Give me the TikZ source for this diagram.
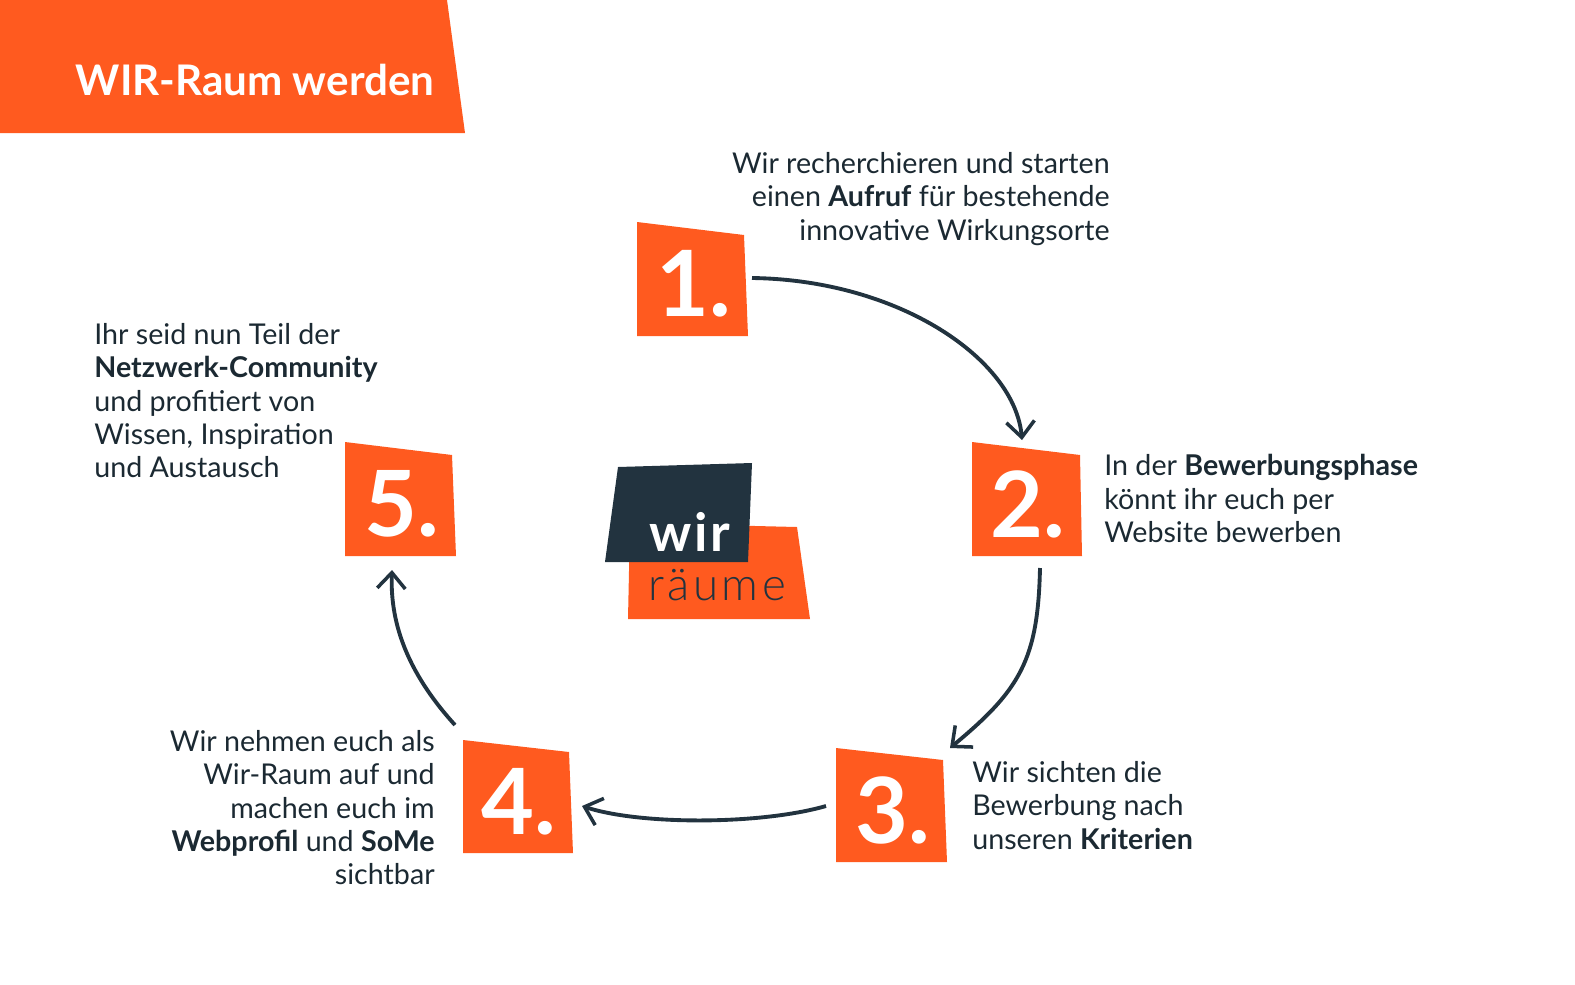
\documentclass[tikz,border=0pt]{standalone}
\usepackage{fontspec}
\setmainfont{Lato}
\usetikzlibrary{arrows.meta}
\definecolor{wirorange}{HTML}{FF5A1F}
\definecolor{wirdark}{HTML}{22333F}
\tikzset{
  numtext/.style={text=white, font=\fontsize{52}{52}\selectfont\bfseries},
  steptext/.style={text=wirdark!80!black, font=\fontsize{16.3}{19}\selectfont, inner sep=0pt},
  flow/.style={draw=wirdark, line width=2.2pt, -{Straight Barb[length=9pt,width=16pt,line width=2pt]}}
}
\begin{document}
\begin{tikzpicture}[x=0.02cm, y=-0.02cm]
\useasboundingbox (0,0) rectangle (1575,984);

% banner
\fill[wirorange] (0,0) -- (447,0) -- (465,133) -- (0,133) -- cycle;
\node[text=white, font=\fontsize{24}{24}\selectfont\bfseries] (title) at (255,80) {WIR-Raum werden};

% step boxes
\fill[wirorange] (637,222) -- (744,235) -- (748,336) -- (637,336) -- cycle;
\fill[wirorange] (972,442) -- (1080,455) -- (1082,556) -- (972,556) -- cycle;
\fill[wirorange] (836,748) -- (943,760) -- (947,862) -- (836,862) -- cycle;
\fill[wirorange] (463,740) -- (569,752) -- (573,853) -- (463,853) -- cycle;
\fill[wirorange] (345,442) -- (452,455) -- (456,556) -- (345,556) -- cycle;
\node[numtext] (n1) at (694,284) {1.};
\node[numtext] (n2) at (1028,504) {2.};
\node[numtext] (n3) at (893,810) {3.};
\node[numtext] (n4) at (519,802) {4.};
\node[numtext] (n5) at (402,504) {5.};

% logo
\fill[wirorange] (630,523) -- (797,527) -- (810,619) -- (628,619) -- cycle;
\fill[wirdark] (618,467) -- (752,463) -- (748,562) -- (605,562) -- cycle;
\node[text=white, font=\fontsize{30}{30}\selectfont\bfseries] (wir) at (690,532) {w\kern1.5pt i\kern1.5pt r};
\node[text=wirdark, font=\fontsize{26}{26}\selectfont\fontspec{Lato Light}] (raeume) at (717,585) {r\kern2pt \"a\kern2pt u\kern2pt m\kern2pt e};

% texts
\node[steptext, anchor=north east, align=right] (t1) at (1110,152)
  {Wir recherchieren und starten\\einen \textbf{Aufruf} f\"ur bestehende\\innovative Wirkungsorte};
\node[steptext, anchor=north west, align=left] (t2) at (1104,454)
  {In der \textbf{Bewerbungsphase}\\k\"onnt ihr euch per\\Website bewerben};
\node[steptext, anchor=north west, align=left] (t3) at (972,761)
  {Wir sichten die\\Bewerbung nach\\unseren \textbf{Kriterien}};
\node[steptext, anchor=north east, align=right] (t4) at (435,730)
  {Wir nehmen euch als\\Wir-Raum auf und\\machen euch im\\\textbf{Webprofil} und \textbf{SoMe}\\sichtbar};
\node[steptext, anchor=north west, align=left] (t5) at (94,323)
  {Ihr seid nun Teil der\\\textbf{Netzwerk-Community}\\und profitiert von\\Wissen, Inspiration\\und Austausch};

% arrows
\coordinate (a1) at (752,278);
\coordinate (b1) at (1022,440);
\coordinate (a2) at (1040,568);
\coordinate (b2) at (950,748);
\coordinate (a3) at (826,806);
\coordinate (b3) at (582,806);
\coordinate (a4) at (455,725);
\coordinate (b4) at (392,570);
\draw[flow] (a1) .. controls (900,280) and (1015,360) .. (b1);
\draw[flow] (a2) .. controls (1038,660) and (1020,690) .. (b2);
\draw[flow] (a3) .. controls (760,825) and (640,825) .. (b3);
\draw[flow] (a4) .. controls (405,670) and (390,620) .. (b4);
\end{tikzpicture}
\end{document}
